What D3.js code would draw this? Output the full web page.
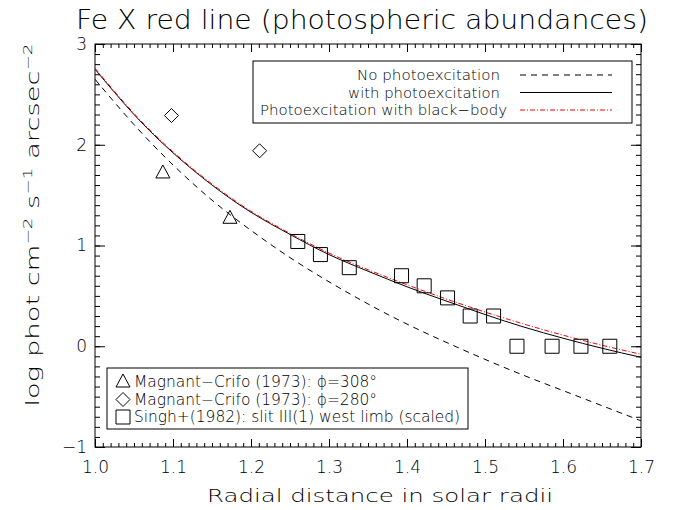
<html>
	<head>
		<meta content="text/html;charset=utf-8" http-equiv="Content-Type">
		<script src="https://d3js.org/d3.v7.min.js"></script>
		<style>
			body { margin: 0; background: white; }
			svg text { font-family: "DejaVu Sans", sans-serif; font-weight: 300; fill: black; }
		</style>
	</head>
	<body>
		<svg id="chart"></svg>
		<script>

			// model curves: radial distance -> log intensity
			var radii = [1.00, 1.05, 1.10, 1.15, 1.20, 1.25, 1.30, 1.35, 1.40, 1.45, 1.50, 1.55, 1.60, 1.65, 1.70];
			var noPhoto = [2.65, 2.20, 1.80, 1.45, 1.15, 0.88, 0.64, 0.42, 0.22, 0.04, -0.13, -0.29, -0.44, -0.59, -0.74];
			var withPhoto = [2.75, 2.30, 1.92, 1.60, 1.33, 1.11, 0.91, 0.745, 0.59, 0.45, 0.315, 0.19, 0.08, -0.02, -0.11];
			var blackBody = [2.76, 2.31, 1.93, 1.61, 1.34, 1.12, 0.925, 0.76, 0.61, 0.47, 0.34, 0.22, 0.11, 0.01, -0.08];

			// observations
			var mc308 = [[1.087, 1.72], [1.173, 1.27]];
			var mc280 = [[1.098, 2.29], [1.211, 1.94]];
			var singh = [[1.260, 1.04], [1.289, 0.91], [1.326, 0.78], [1.393, 0.70], [1.422, 0.60], [1.452, 0.48],
				[1.481, 0.30], [1.511, 0.30], [1.541, 0.00], [1.586, 0.00], [1.623, 0.00], [1.660, 0.00]];

			var xTicks = [1.0, 1.1, 1.2, 1.3, 1.4, 1.5, 1.6, 1.7];
			var yTicks = [-1, 0, 1, 2, 3];

			var lineLabels = ["No photoexcitation", "with photoexcitation", "Photoexcitation with black\u2212body"];
			var symLabels = ["Magnant\u2212Crifo (1973): \u03d5=308\u00b0", "Magnant\u2212Crifo (1973): \u03d5=280\u00b0", "Singh+(1982): slit III(1) west limb (scaled)"];

			draw();

			function draw(){
				var W = 677, H = 510;
				var pLeft = 95, pRight = 641, pTop = 44, pBottom = 447;

				var svg = d3.select("#chart").attr("width", W).attr("height", H);

				var x = d3.scaleLinear().domain([1.0, 1.7]).range([pLeft, pRight]);
				var y = d3.scaleLinear().domain([-1, 3]).range([pBottom, pTop]);

				// frame
				svg.append("rect")
					.attr("x", pLeft).attr("y", pTop)
					.attr("width", pRight - pLeft).attr("height", pBottom - pTop)
					.attr("fill", "none").style("stroke", "black").style("stroke-width", 1);

				var xMinor = d3.range(100, 171).map(function(d){ return d / 100; });
				var yMinor = d3.range(-10, 31).map(function(d){ return d / 10; });

				function styleAxis(g){
					g.select(".domain").remove();
					g.selectAll("line").style("stroke", "black");
					g.selectAll("text").style("font-size", "17px").style("font-family", "DejaVu Sans").style("font-weight", 300);
				}

				// bottom
				svg.append("g").attr("transform", "translate(0," + pBottom + ")")
					.call(d3.axisBottom(x).tickValues(xMinor).tickSize(-4).tickFormat("")).call(styleAxis);
				svg.append("g").attr("transform", "translate(0," + pBottom + ")")
					.call(d3.axisBottom(x).tickValues(xTicks).tickSize(-8).tickPadding(14).tickFormat(d3.format(".1f"))).call(styleAxis);
				// top
				svg.append("g").attr("transform", "translate(0," + pTop + ")")
					.call(d3.axisTop(x).tickValues(xMinor).tickSize(-4).tickFormat("")).call(styleAxis);
				svg.append("g").attr("transform", "translate(0," + pTop + ")")
					.call(d3.axisTop(x).tickValues(xTicks).tickSize(-8).tickFormat("")).call(styleAxis);
				// left
				svg.append("g").attr("transform", "translate(" + pLeft + ",0)")
					.call(d3.axisLeft(y).tickValues(yMinor).tickSize(-5).tickFormat("")).call(styleAxis);
				svg.append("g").attr("transform", "translate(" + pLeft + ",0)")
					.call(d3.axisLeft(y).tickValues(yTicks).tickSize(-10).tickPadding(8).tickFormat(function(d){ return d < 0 ? "\u2212" + Math.abs(d) : d; })).call(styleAxis);
				// right
				svg.append("g").attr("transform", "translate(" + pRight + ",0)")
					.call(d3.axisRight(y).tickValues(yMinor).tickSize(-5).tickFormat("")).call(styleAxis);
				svg.append("g").attr("transform", "translate(" + pRight + ",0)")
					.call(d3.axisRight(y).tickValues(yTicks).tickSize(-10).tickFormat("")).call(styleAxis);

				// titles
				svg.append("text")
					.attr("x", 362).attr("y", 29)
					.attr("text-anchor", "middle")
					.attr("textLength", 572).attr("lengthAdjust", "spacingAndGlyphs")
					.style("font-size", "26px")
					.text("Fe X red line (photospheric abundances)");
				svg.append("text")
					.attr("x", 380).attr("y", 502)
					.attr("text-anchor", "middle")
					.attr("textLength", 346).attr("lengthAdjust", "spacingAndGlyphs")
					.style("font-size", "18px")
					.text("Radial distance in solar radii");
				var yl = svg.append("text")
					.attr("transform", "translate(39,225) rotate(-90)")
					.attr("text-anchor", "middle")
					.attr("textLength", 363).attr("lengthAdjust", "spacingAndGlyphs")
					.style("font-size", "18px");
				yl.append("tspan").text("log phot cm");
				yl.append("tspan").attr("dy", -7).style("font-size", "12px").text("\u22122");
				yl.append("tspan").attr("dy", 7).text(" s");
				yl.append("tspan").attr("dy", -7).style("font-size", "12px").text("\u22121");
				yl.append("tspan").attr("dy", 7).text(" arcsec");
				yl.append("tspan").attr("dy", -7).style("font-size", "12px").text("\u22122");

				// curves
				var plot = svg.append("g");
				function curve(vals){
					return d3.line()
						.x(function(d, i){ return x(radii[i]); })
						.y(function(d){ return y(d); })
						.curve(d3.curveNatural)(vals);
				}
				plot.append("path").attr("d", curve(noPhoto))
					.attr("fill", "none").style("stroke", "black").style("stroke-dasharray", "6,5");
				plot.append("path").attr("d", curve(withPhoto))
					.attr("fill", "none").style("stroke", "black");
				plot.append("path").attr("d", curve(blackBody))
					.attr("fill", "none").style("stroke", "red").style("stroke-dasharray", "5,2,1,2");

				// symbols
				function triangle(cx, cy){ return "M" + (cx - 7) + "," + (cy + 5) + "L" + (cx + 7) + "," + (cy + 5) + "L" + cx + "," + (cy - 8) + "Z"; }
				function diamond(cx, cy){ return "M" + (cx - 7) + "," + cy + "L" + cx + "," + (cy - 7) + "L" + (cx + 7) + "," + cy + "L" + cx + "," + (cy + 7) + "Z"; }
				function square(cx, cy){ return "M" + (cx - 7) + "," + (cy - 7) + "h14v14h-14Z"; }

				plot.selectAll(".tri").data(mc308).enter().append("path")
					.attr("d", function(d){ return triangle(x(d[0]), y(d[1])); })
					.attr("fill", "none").style("stroke", "black");
				plot.selectAll(".dia").data(mc280).enter().append("path")
					.attr("d", function(d){ return diamond(x(d[0]), y(d[1])); })
					.attr("fill", "none").style("stroke", "black");
				plot.selectAll(".sq").data(singh).enter().append("path")
					.attr("d", function(d){ return square(x(d[0]), y(d[1])); })
					.attr("fill", "none").style("stroke", "black");

				// legend for curves
				svg.append("rect").attr("x", 253).attr("y", 61).attr("width", 379).attr("height", 62)
					.attr("fill", "white").style("stroke", "black");
				var dashes = ["6,5", null, "5,2,1,2"];
				var colors = ["black", "black", "red"];
				var lens = [143, 152, 247];
				var ends = [500, 500, 507];
				lineLabels.forEach(function(t, i){
					var yy = 75 + i * 17.5;
					svg.append("text").attr("x", ends[i]).attr("y", yy + 5)
						.attr("text-anchor", "end")
						.attr("textLength", lens[i]).attr("lengthAdjust", "spacingAndGlyphs")
						.style("font-size", "14px").text(t);
					svg.append("line").attr("x1", 520).attr("x2", 612).attr("y1", yy).attr("y2", yy)
						.style("stroke", colors[i]).style("stroke-dasharray", dashes[i]);
				});

				// legend for data
				svg.append("rect").attr("x", 107).attr("y", 368).attr("width", 361).attr("height", 61)
					.attr("fill", "white").style("stroke", "black");
				var syms = [triangle, diamond, square];
				var slens = [243, 243, 326];
				symLabels.forEach(function(t, i){
					var yy = 382 + i * 17.5;
					svg.append("path").attr("d", syms[i](123, yy)).attr("fill", "none").style("stroke", "black");
					svg.append("text").attr("x", 134).attr("y", yy + 5)
						.attr("textLength", slens[i]).attr("lengthAdjust", "spacingAndGlyphs")
						.style("font-size", "15px").text(t);
				});
			}

		</script>
	</body>
</html>
